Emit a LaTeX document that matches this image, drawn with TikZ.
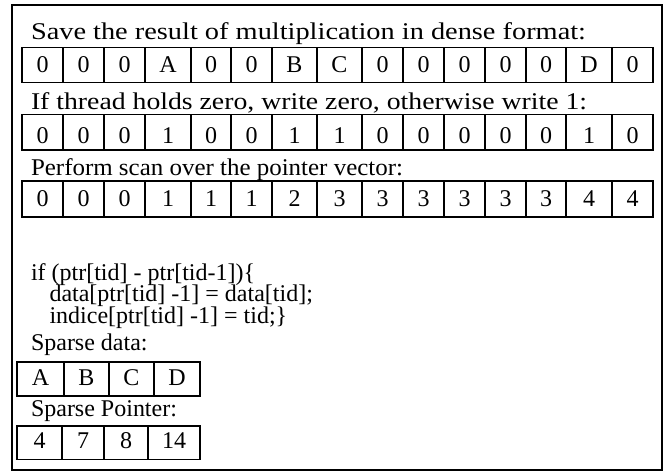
\documentclass[tikz,border=0pt]{standalone}
\usepackage{fontspec}
\setmainfont{Liberation Serif}
\usepackage{graphicx}
\newcommand\cellrow[5]{% #1 prefix, #2 top, #3 bottom, #4 text height, #5 list
  \foreach [count=\i] \a/\b/\t in {#5} {
    \pgfmathsetmacro\w{\b-\a}%
    \pgfmathsetmacro\h{#3-#2}%
    \pgfmathsetmacro\cx{(\a+\b)/2}%
    \pgfmathsetmacro\cy{(#2+#3)/2}%
    \node[cell=#4, minimum width=\w pt, minimum height=\h pt] (#1\i) at (\cx,\cy) {\t};
  }}
\begin{document}
\begin{tikzpicture}[x=1pt,y=-1pt,
  cell/.style={draw, line width=1.6pt, inner sep=0pt, outer sep=0pt,
    font=\fontsize{24}{28}\selectfont, text height=#1, text depth=0pt},
  cell/.default=16pt,
  txt/.style={anchor=base west, inner sep=0pt, outer sep=0pt,
    font=\fontsize{24}{28}\selectfont},
  frame/.style={draw, line width=2pt, inner sep=0pt}]
\useasboundingbox (0,0) rectangle (670,472);
\node[frame, minimum width=650pt, minimum height=465pt] (frame) at (337,237.5) {};

\node[txt] (h1) at (31,39.3) {\resizebox{555pt}{\height}{Save the result of multiplication in dense format:}};
\cellrow{a}{47.3}{82.3}{15pt}{22/63/0,63/104/0,104/145/0,145/191/A,191/231/0,231/272/0,272/317/B,317/362/C,362/403/0,403/444/0,444/485/0,485/526/0,526/566/0,566/612/D,612/653/0}

\node[txt] (h2) at (31,109) {\resizebox{556pt}{\height}{If thread holds zero, write zero, otherwise write 1:}};
\cellrow{b}{114.3}{150}{22pt}{22/63/0,63/104/0,104/145/0,145/191/1,191/231/0,231/272/0,272/317/1,317/362/1,362/403/0,403/444/0,444/485/0,485/526/0,526/566/0,566/612/1,612/653/0}

\node[txt] (h3) at (31,175) {\resizebox{372pt}{\height}{Perform scan over the pointer vector:}};
\cellrow{c}{181}{216.7}{16pt}{22/63/0,63/104/0,104/145/0,145/191/1,191/231/1,231/272/1,272/317/2,317/362/3,362/403/3,403/444/3,444/485/3,485/526/3,526/566/3,566/612/4,612/653/4}

\node[txt] (code1) at (31,280) {if (ptr[tid] - ptr[tid-1])\{};
\node[txt] (code2) at (49.5,301.7) {data[ptr[tid] -1] = data[tid];};
\node[txt] (code3) at (49.5,323.3) {indice[ptr[tid] -1] = tid;\}};

\node[txt] (sdlabel) at (31,350.7) {Sparse data:};
\cellrow{d}{361.7}{396}{12.4pt}{17/64/A,64/109/B,109/154/C,154/200/D}

\node[txt] (splabel) at (31,416.7) {Sparse Pointer:};
\cellrow{p}{425.7}{459.3}{11pt}{17/62/4,62/104/7,104/148/8,148/200/14}
\end{tikzpicture}
\end{document}
